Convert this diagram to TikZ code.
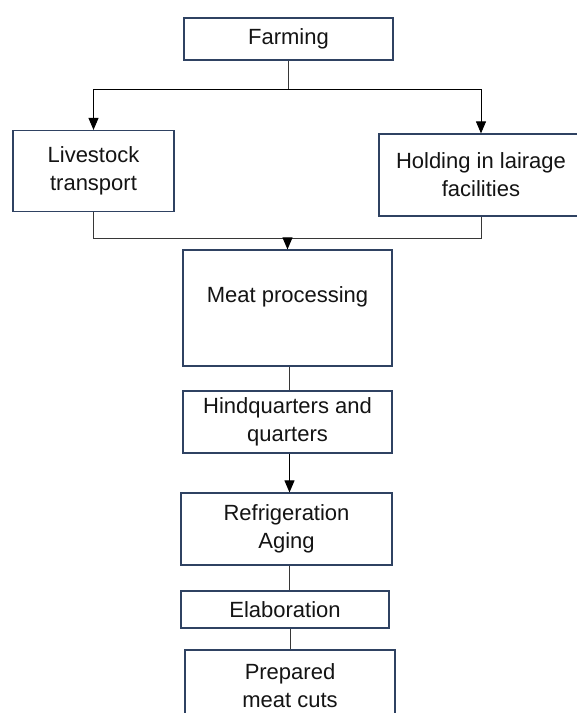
\documentclass[tikz,border=0pt]{standalone}
\usepackage{fontspec}
\setmainfont{Liberation Sans}
\usetikzlibrary{arrows.meta}
\definecolor{boxline}{RGB}{47,66,98}
\definecolor{conline}{RGB}{55,55,55}
\tikzset{
  stepbox/.style={draw=boxline, line width=1.2pt, fill=white, align=center,
    inner sep=0pt, font=\fontsize{22}{28}\selectfont, text=black!92},
  conn/.style={draw=conline, line width=1pt},
  arr/.style={conn, -{Triangle[length=12pt,width=10pt]}, color=black},
  lbl/.style={align=center, font=\fontsize{22}{28}\selectfont, text=black!92},
}
\begin{document}
\begin{tikzpicture}[x=1pt,y=-1pt]
\useasboundingbox (0,0) rectangle (577,713);
\clip (0,0) rectangle (577,713);
\fill[white] (0,0) rectangle (577,713);

\node[stepbox, minimum width=209, minimum height=42] (farm) at (288.5,39) {Farming};
\node[stepbox, minimum width=161, minimum height=81] (live) at (93.5,171) {Livestock\\transport};
\node[stepbox, minimum width=204, minimum height=82] (hold) at (481,175) {Holding in lairage\\facilities};
\node[stepbox, minimum width=209, minimum height=116] (meat) at (287.5,308) {};
\node[lbl] (meattext) at (287.5,297) {Meat processing};
\node[stepbox, minimum width=209, minimum height=62] (hind) at (287.5,422) {Hindquarters and\\quarters};
\node[stepbox, minimum width=211, minimum height=72] (refr) at (286.5,529) {Refrigeration\\Aging};
\node[stepbox, minimum width=208, minimum height=37] (elab) at (285,609.5) {Elaboration};
\node[stepbox, minimum width=210, minimum height=72] (prep) at (290,686) {Prepared\\meat cuts};

\coordinate (split) at (288.5,89);
\coordinate (merge) at (287.5,238);

\draw[conn] (farm.south) -- (split);
\draw[arr] (split) -| (live.north);
\draw[arr] (split) -| (hold.north);
\draw[conn] (live.south) |- (merge);
\draw[conn] (hold.south) |- (merge);
\draw[arr] (merge) -- (meat.north);
\draw[conn] (meat.south -| 289,0) -- (hind.north -| 289,0);
\draw[arr] (hind.south -| 289.5,0) -- (refr.north -| 289.5,0);
\draw[conn] (refr.south -| 289.5,0) -- (elab.north -| 289.5,0);
\draw[conn] (elab.south -| 290,0) -- (prep.north -| 290,0);
\end{tikzpicture}
\end{document}
